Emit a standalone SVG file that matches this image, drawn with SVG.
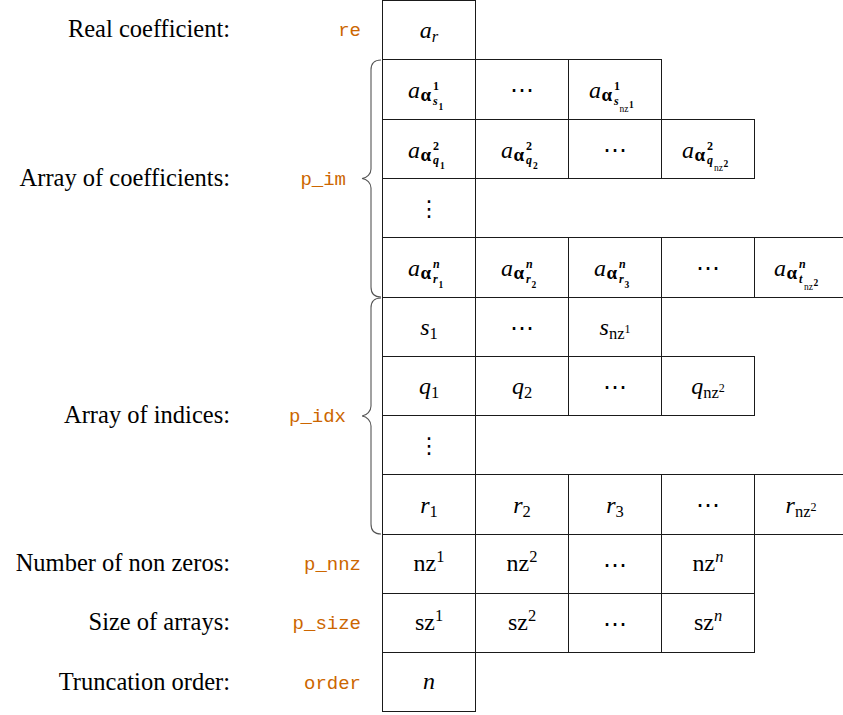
<svg xmlns="http://www.w3.org/2000/svg" width="843" height="715" viewBox="0 0 843 715">
<style>
.bg{fill:#fff}
.c{fill:none;stroke:#1a1a1a;stroke-width:1}
.br{fill:none;stroke:#555;stroke-width:1.1}
.m{font-family:'Liberation Serif','Times New Roman','DejaVu Serif',serif;font-size:24px;fill:#000}
.mid{text-anchor:middle}
.i{font-style:italic}
.b{font-weight:bold}
.s1{font-size:16.5px}
.s2{font-size:12px}
.s3{font-size:9.5px}
.al{font-size:19px;font-weight:bold}
.lbl{font-family:'Liberation Serif','Times New Roman','DejaVu Serif',serif;font-size:24.5px;fill:#000;text-anchor:end}
.code{font-family:'Liberation Mono','Courier New',monospace;font-size:19px;fill:#cc6600;text-anchor:end}
.dots{font-family:'DejaVu Serif','DejaVu Sans',serif;font-size:24px;text-anchor:middle;fill:#000}
.vd{font-family:'DejaVu Serif','DejaVu Sans',serif;font-size:22px;text-anchor:middle;fill:#000}
</style>
<rect class="bg" x="0" y="0" width="843" height="715"/>

<g id="labels">
<text class="lbl" x="230" y="37">Real coefficient:</text>
<text class="lbl" x="230" y="186">Array of coefficients:</text>
<text class="lbl" x="230" y="423">Array of indices:</text>
<text class="lbl" x="230" y="571">Number of non zeros:</text>
<text class="lbl" x="230" y="630">Size of arrays:</text>
<text class="lbl" x="230" y="690">Truncation order:</text>
<text class="code" x="361" y="36">re</text>
<text class="code" x="346" y="185">p_im</text>
<text class="code" x="346" y="422">p_idx</text>
<text class="code" x="361" y="570">p_nnz</text>
<text class="code" x="361" y="629">p_size</text>
<text class="code" x="361" y="689">order</text>
</g>

<g id="connectors">
<path class="br" d="M381 60 C375 60 371 63 371 70 L371 169 C371 174 367 178 362 178.5 C367 179 371 183 371 188 L371 287 C371 294 375 297 381 297"/>
<path class="br" d="M381 298 C375 298 371 301 371 308 L371 406 C371 411 367 415.5 362 416 C367 416.5 371 421 371 426 L371 524 C371 531 375 534 381 534"/>
</g>

<g id="re">
<rect class="c" x="382.5" y="0.5" width="93" height="59"/>
<text class="m mid" x="429" y="38"><tspan class="i">a</tspan><tspan class="s1 i" dy="4">r</tspan></text>
</g>

<g id="p_im_row1">
<rect class="c" x="382.5" y="59.5" width="93" height="60"/>
<rect class="c" x="475.5" y="59.5" width="93" height="60"/>
<rect class="c" x="568.5" y="59.5" width="93" height="60"/>
<text class="m i" x="408" y="98">a</text>
<text class="m al" x="420.5" y="101">α</text>
<text class="m b s2" x="433" y="90">1</text>
<text class="m b i s2" x="433" y="104.5">s</text>
<text class="m b s3" x="438.5" y="109.5">1</text>
<text class="dots" x="522" y="98">⋯</text>
<text class="m i" x="589" y="98">a</text>
<text class="m al" x="601.5" y="101">α</text>
<text class="m b s2" x="614" y="90">1</text>
<text class="m b i s2" x="614" y="104.5">s</text>
<text class="m s3" x="619.5" y="111.5">nz</text>
<text class="m b s3" x="629" y="107.5">1</text>
</g>

<g id="p_im_row2">
<rect class="c" x="382.5" y="119.5" width="93" height="59"/>
<rect class="c" x="475.5" y="119.5" width="93" height="59"/>
<rect class="c" x="568.5" y="119.5" width="93" height="59"/>
<rect class="c" x="661.5" y="119.5" width="93" height="59"/>
<text class="m i" x="408" y="157.5">a</text>
<text class="m al" x="420.5" y="160.5">α</text>
<text class="m b s2" x="433" y="149.5">2</text>
<text class="m b i s2" x="433" y="164">q</text>
<text class="m b s3" x="440" y="169">1</text>
<text class="m i" x="501" y="157.5">a</text>
<text class="m al" x="513.5" y="160.5">α</text>
<text class="m b s2" x="526" y="149.5">2</text>
<text class="m b i s2" x="526" y="164">q</text>
<text class="m b s3" x="533" y="169">2</text>
<text class="dots" x="615" y="157.5">⋯</text>
<text class="m i" x="682" y="157.5">a</text>
<text class="m al" x="694.5" y="160.5">α</text>
<text class="m b s2" x="707" y="149.5">2</text>
<text class="m b i s2" x="707" y="164">q</text>
<text class="m s3" x="714" y="171">nz</text>
<text class="m b s3" x="723.5" y="167">2</text>
</g>

<g id="p_im_row3">
<rect class="c" x="382.5" y="178.5" width="93" height="59"/>
<text class="vd" x="429" y="216">⋮</text>
</g>

<g id="p_im_row4">
<rect class="c" x="382.5" y="237.5" width="93" height="60"/>
<rect class="c" x="475.5" y="237.5" width="93" height="60"/>
<rect class="c" x="568.5" y="237.5" width="93" height="60"/>
<rect class="c" x="661.5" y="237.5" width="93" height="60"/>
<rect class="c" x="754.5" y="237.5" width="93" height="60"/>
<text class="m i" x="408" y="276">a</text>
<text class="m al" x="420.5" y="279">α</text>
<text class="m b i s2" x="433" y="268">n</text>
<text class="m b i s2" x="433" y="282.5">r</text>
<text class="m b s3" x="438.5" y="287.5">1</text>
<text class="m i" x="501" y="276">a</text>
<text class="m al" x="513.5" y="279">α</text>
<text class="m b i s2" x="526" y="268">n</text>
<text class="m b i s2" x="526" y="282.5">r</text>
<text class="m b s3" x="531.5" y="287.5">2</text>
<text class="m i" x="594" y="276">a</text>
<text class="m al" x="606.5" y="279">α</text>
<text class="m b i s2" x="619" y="268">n</text>
<text class="m b i s2" x="619" y="282.5">r</text>
<text class="m b s3" x="624.5" y="287.5">3</text>
<text class="dots" x="708" y="276">⋯</text>
<text class="m i" x="774" y="276">a</text>
<text class="m al" x="786.5" y="279">α</text>
<text class="m b i s2" x="799" y="268">n</text>
<text class="m b i s2" x="799" y="282.5">t</text>
<text class="m s3" x="804" y="289.5">nz</text>
<text class="m b s3" x="813.5" y="285.5">2</text>
</g>

<g id="p_idx_row1">
<rect class="c" x="382.5" y="297.5" width="93" height="59"/>
<rect class="c" x="475.5" y="297.5" width="93" height="59"/>
<rect class="c" x="568.5" y="297.5" width="93" height="59"/>
<text class="m mid" x="429" y="335"><tspan class="i">s</tspan><tspan class="s1" dy="4">1</tspan></text>
<text class="dots" x="522" y="335.5">⋯</text>
<text class="m mid" x="615" y="335"><tspan class="i">s</tspan><tspan class="s1" dy="4">nz</tspan><tspan class="s2" dy="-6">1</tspan></text>
</g>

<g id="p_idx_row2">
<rect class="c" x="382.5" y="356.5" width="93" height="59"/>
<rect class="c" x="475.5" y="356.5" width="93" height="59"/>
<rect class="c" x="568.5" y="356.5" width="93" height="59"/>
<rect class="c" x="661.5" y="356.5" width="93" height="59"/>
<text class="m mid" x="429" y="394"><tspan class="i">q</tspan><tspan class="s1" dy="4">1</tspan></text>
<text class="m mid" x="522" y="394"><tspan class="i">q</tspan><tspan class="s1" dy="4">2</tspan></text>
<text class="dots" x="615" y="394.5">⋯</text>
<text class="m mid" x="708" y="394"><tspan class="i">q</tspan><tspan class="s1" dy="4">nz</tspan><tspan class="s2" dy="-6">2</tspan></text>
</g>

<g id="p_idx_row3">
<rect class="c" x="382.5" y="415.5" width="93" height="59"/>
<text class="vd" x="429" y="453">⋮</text>
</g>

<g id="p_idx_row4">
<rect class="c" x="382.5" y="474.5" width="93" height="60"/>
<rect class="c" x="475.5" y="474.5" width="93" height="60"/>
<rect class="c" x="568.5" y="474.5" width="93" height="60"/>
<rect class="c" x="661.5" y="474.5" width="93" height="60"/>
<rect class="c" x="754.5" y="474.5" width="93" height="60"/>
<text class="m mid" x="429" y="513"><tspan class="i">r</tspan><tspan class="s1" dy="4">1</tspan></text>
<text class="m mid" x="522" y="513"><tspan class="i">r</tspan><tspan class="s1" dy="4">2</tspan></text>
<text class="m mid" x="615" y="513"><tspan class="i">r</tspan><tspan class="s1" dy="4">3</tspan></text>
<text class="dots" x="708" y="513">⋯</text>
<text class="m mid" x="801" y="513"><tspan class="i">r</tspan><tspan class="s1" dy="4">nz</tspan><tspan class="s2" dy="-6">2</tspan></text>
</g>

<g id="p_nnz">
<rect class="c" x="382.5" y="534.5" width="93" height="59"/>
<rect class="c" x="475.5" y="534.5" width="93" height="59"/>
<rect class="c" x="568.5" y="534.5" width="93" height="59"/>
<rect class="c" x="661.5" y="534.5" width="93" height="59"/>
<text class="m mid" x="429" y="571">nz<tspan class="s1" dy="-9">1</tspan></text>
<text class="m mid" x="522" y="571">nz<tspan class="s1" dy="-9">2</tspan></text>
<text class="dots" x="615" y="572.5">⋯</text>
<text class="m mid" x="708" y="571">nz<tspan class="s1 i" dy="-9">n</tspan></text>
</g>

<g id="p_size">
<rect class="c" x="382.5" y="593.5" width="93" height="59"/>
<rect class="c" x="475.5" y="593.5" width="93" height="59"/>
<rect class="c" x="568.5" y="593.5" width="93" height="59"/>
<rect class="c" x="661.5" y="593.5" width="93" height="59"/>
<text class="m mid" x="429" y="630">sz<tspan class="s1" dy="-9">1</tspan></text>
<text class="m mid" x="522" y="630">sz<tspan class="s1" dy="-9">2</tspan></text>
<text class="dots" x="615" y="631.5">⋯</text>
<text class="m mid" x="708" y="630">sz<tspan class="s1 i" dy="-9">n</tspan></text>
</g>

<g id="order">
<rect class="c" x="382.5" y="652.5" width="93" height="59"/>
<text class="m mid i" x="429" y="689">n</text>
</g>
</svg>
